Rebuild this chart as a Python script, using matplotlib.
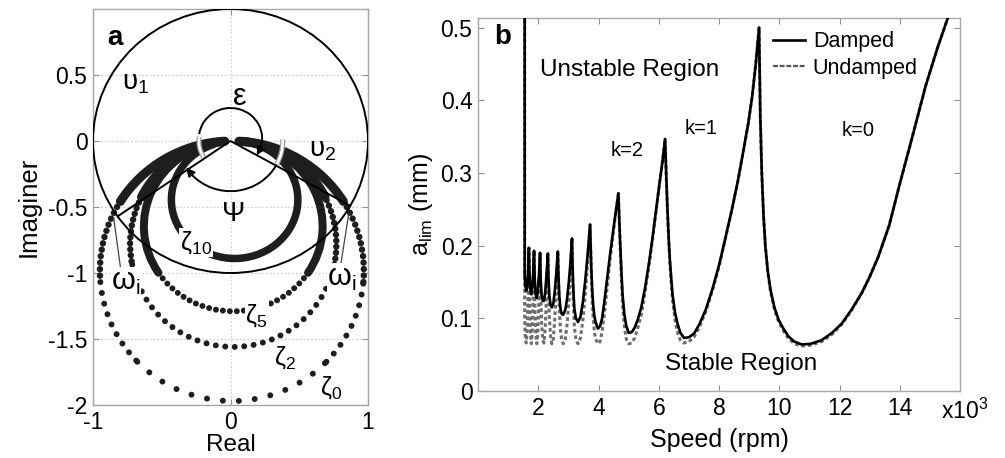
import numpy as np
import matplotlib
matplotlib.use("Agg")
import matplotlib.pyplot as plt
from matplotlib.patches import Arc, Circle
from matplotlib.ticker import FixedLocator, FixedFormatter

plt.rcParams['font.family'] = ['Liberation Sans', 'DejaVu Sans']
plt.rcParams['mathtext.fontset'] = 'custom'
plt.rcParams['mathtext.rm'] = 'Liberation Sans'
plt.rcParams['mathtext.it'] = 'Liberation Sans:italic'
plt.rcParams['axes.unicode_minus'] = False

# ---------------- Panel a data ----------------
a_xticks = [-1, 0, 1]
a_xticklabels = ['-1', '0', '1']
a_yticks = [-2, -1.5, -1, -0.5, 0, 0.5]
a_yticklabels = ['-2', '-1.5', '-1', '-0.5', '0', '0.5']

# Nyquist-like curves (centre / radii)
zeta_names = ['0', '2', '5', '10']
zeta_cx = [0.01, 0.02, 0.02, 0.03]
zeta_cy = [-0.985, -0.78, -0.645, -0.445]
zeta_rx = [0.96, 0.75, 0.65, 0.46]
zeta_ry = [0.985, 0.78, 0.645, 0.445]

# unit circle U1 and the two radius lines
u1_radius = 1.0
v_x = [-0.82, 0.0, 0.87]
v_y = [-0.57, 0.0, -0.49]
eps_radius = 0.23
psi_radius = 0.38

# ---------------- Panel b data (speed in 10^3 rpm, a_lim in mm) ----------------
lobe10_speed = [1.55, 1.55, 1.57, 1.60, 1.63, 1.66, 1.69]
lobe10_damped = [0.52, 0.16, 0.145, 0.138, 0.142, 0.162, 0.197]
lobe10_undamped = [0.52, 0.10, 0.072, 0.066, 0.082, 0.13, 0.197]

lobe9_speed = [1.69, 1.71, 1.74, 1.77, 1.80, 1.83, 1.86]
lobe9_damped = [0.197, 0.16, 0.138, 0.133, 0.142, 0.163, 0.193]
lobe9_undamped = [0.197, 0.13, 0.08, 0.065, 0.08, 0.125, 0.193]

lobe8_speed = [1.86, 1.88, 1.91, 1.95, 1.98, 2.02, 2.06]
lobe8_damped = [0.193, 0.158, 0.134, 0.128, 0.135, 0.158, 0.19]
lobe8_undamped = [0.193, 0.135, 0.085, 0.065, 0.075, 0.12, 0.19]

lobe7_speed = [2.06, 2.08, 2.11, 2.15, 2.19, 2.23, 2.27, 2.32]
lobe7_damped = [0.19, 0.155, 0.132, 0.124, 0.124, 0.136, 0.158, 0.189]
lobe7_undamped = [0.19, 0.14, 0.095, 0.07, 0.066, 0.085, 0.125, 0.189]

lobe6_speed = [2.32, 2.34, 2.37, 2.41, 2.45, 2.50, 2.55, 2.60, 2.65]
lobe6_damped = [0.189, 0.155, 0.13, 0.118, 0.115, 0.12, 0.138, 0.163, 0.192]
lobe6_undamped = [0.189, 0.14, 0.10, 0.075, 0.065, 0.072, 0.10, 0.14, 0.192]

lobe5_speed = [2.65, 2.67, 2.70, 2.74, 2.78, 2.83, 2.90, 2.96, 3.02, 3.07, 3.12]
lobe5_damped = [0.192, 0.16, 0.13, 0.113, 0.106, 0.105, 0.112, 0.128, 0.152, 0.178, 0.21]
lobe5_undamped = [0.192, 0.15, 0.11, 0.083, 0.07, 0.065, 0.072, 0.093, 0.125, 0.163, 0.21]

lobe4_speed = [3.12, 3.14, 3.17, 3.20, 3.25, 3.32, 3.40, 3.48, 3.56, 3.64, 3.72]
lobe4_damped = [0.21, 0.17, 0.135, 0.113, 0.10, 0.095, 0.102, 0.122, 0.152, 0.188, 0.229]
lobe4_undamped = [0.21, 0.16, 0.115, 0.088, 0.071, 0.065, 0.073, 0.097, 0.133, 0.178, 0.229]

lobe3_speed = [3.72, 3.74, 3.76, 3.79, 3.82, 3.86, 3.90, 3.98, 4.05, 4.12, 4.20, 4.31, 4.39, 4.47, 4.56, 4.66]
lobe3_damped = [0.229, 0.20, 0.17, 0.14, 0.12, 0.104, 0.095, 0.086, 0.089, 0.10, 0.125, 0.163, 0.19, 0.215, 0.243, 0.272]
lobe3_undamped = [0.229, 0.198, 0.163, 0.128, 0.103, 0.083, 0.072, 0.065, 0.068, 0.082, 0.108, 0.152, 0.183, 0.211, 0.241, 0.272]

lobe2_speed = [4.66, 4.69, 4.72, 4.76, 4.80, 4.86, 4.92, 5.00, 5.10, 5.20, 5.30, 5.42, 5.55, 5.69,
               5.80, 5.91, 6.02, 6.13, 6.21]
lobe2_damped = [0.272, 0.235, 0.203, 0.165, 0.132, 0.105, 0.09, 0.080, 0.081, 0.087, 0.098, 0.115,
                0.143, 0.18, 0.213, 0.249, 0.284, 0.318, 0.347]
lobe2_undamped = [0.272, 0.233, 0.198, 0.155, 0.118, 0.088, 0.072, 0.065, 0.066, 0.073, 0.086, 0.105,
                  0.137, 0.176, 0.211, 0.248, 0.284, 0.318, 0.347]

lobe1_speed = [6.21, 6.25, 6.29, 6.33, 6.37, 6.42, 6.46, 6.54, 6.62, 6.72, 6.84, 7.00, 7.17, 7.35,
               7.56, 7.78, 8.00, 8.22, 8.44, 8.63, 8.82, 8.97, 9.10, 9.22, 9.33]
lobe1_damped = [0.347, 0.295, 0.249, 0.21, 0.18, 0.152, 0.132, 0.108, 0.093, 0.080, 0.073, 0.074,
                0.079, 0.092, 0.112, 0.14, 0.173, 0.212, 0.252, 0.29, 0.333, 0.368, 0.405, 0.45, 0.500]
lobe1_undamped = [0.347, 0.294, 0.247, 0.207, 0.175, 0.145, 0.124, 0.098, 0.081, 0.07, 0.066, 0.068,
                  0.074, 0.088, 0.109, 0.138, 0.171, 0.211, 0.252, 0.29, 0.333, 0.368, 0.405, 0.45, 0.5]

lobe0_speed = [9.33, 9.37, 9.42, 9.48, 9.54, 9.62, 9.71, 9.84, 9.98, 10.15, 10.31, 10.50, 10.75,
               11.05, 11.41, 11.75, 12.08, 12.40, 12.74, 13.00, 13.29, 13.65, 14.00, 14.45, 14.86,
               15.25, 15.65]
lobe0_damped = [0.500, 0.38, 0.30, 0.24, 0.199, 0.165, 0.139, 0.115, 0.098, 0.085, 0.075, 0.068,
                0.064, 0.065, 0.070, 0.08, 0.093, 0.112, 0.135, 0.157, 0.185, 0.228, 0.285, 0.355,
                0.42, 0.472, 0.52]
lobe0_undamped = [0.5, 0.38, 0.30, 0.24, 0.198, 0.163, 0.137, 0.112, 0.095, 0.082, 0.072, 0.065,
                  0.062, 0.063, 0.068, 0.078, 0.092, 0.111, 0.135, 0.157, 0.185, 0.228, 0.285, 0.355,
                  0.42, 0.472, 0.52]

b_xticks = [2, 4, 6, 8, 10, 12, 14]
b_xticklabels = ['2', '4', '6', '8', '10', '12', '14']
b_yticks = [0, 0.1, 0.2, 0.3, 0.4, 0.5]
b_yticklabels = ['0', '0.1', '0.2', '0.3', '0.4', '0.5']
legend_labels = ['Damped', 'Undamped']

# ---------------- Figure ----------------
W, H = 1005, 458
fig = plt.figure(figsize=(W / 100, H / 100), dpi=100)
axa = fig.add_axes([93 / W, 1 - 405 / H, 275 / W, 396 / H])
axb = fig.add_axes([478 / W, 1 - 391 / H, 482 / W, 372.7 / H])

spine_col = '#a8a8a8'
tick_fs = 16.5
lab_fs = 18


def style_axes(ax):
    for s in ax.spines.values():
        s.set_color(spine_col)
        s.set_linewidth(1.0)
    ax.tick_params(direction='in', length=4, width=0.8, color='#909090',
                   labelsize=tick_fs, top=True, right=True, pad=4)


# ---------- panel a ----------
style_axes(axa)
axa.set_xlim(-1, 1)
axa.set_ylim(-2, 1)
axa.xaxis.set_major_locator(FixedLocator(a_xticks))
axa.xaxis.set_major_formatter(FixedFormatter(a_xticklabels))
axa.yaxis.set_major_locator(FixedLocator(a_yticks))
axa.yaxis.set_major_formatter(FixedFormatter(a_yticklabels))
axa.grid(True, color='#d2d2d2', lw=0.9, ls=(0, (1.5, 1.5)))
axa.set_axisbelow(True)
axa.set_xlabel('Real', fontsize=17.5, labelpad=0)
axa.set_ylabel('Imaginer', fontsize=18.5, labelpad=5)

dot_col = '#1e1e1e'


def arc_piece(ax, cx, cy, rx, ry, t1, t2, spacing_px, dot_px):
    lw = dot_px * 0.72
    if spacing_px <= 0:
        ls = '-'
    else:
        ls = (0, (0.001, spacing_px * 0.72 / lw))
    ax.add_patch(Arc((cx, cy), 2 * rx, 2 * ry, theta1=t1, theta2=t2, lw=lw,
                     ls=ls, color=dot_col, capstyle='round', zorder=2))


# zones (deg, CCW from +x): (theta1, theta2, dot spacing px (0 = solid), dot size px)
zone_spec = [
    [(93, 147, 0, 9), (147, 185, 6.5, 6.5), (185, 225, 11, 6), (225, 315, 16, 6),
     (315, 355, 11, 6), (355, 393, 6.5, 6.5), (393, 447, 0, 9)],
    [(95, 152, 0, 9), (152, 192, 6, 6.5), (192, 348, 9.5, 6), (348, 388, 6, 6.5),
     (388, 445, 0, 9)],
    [(98, 213, 0, 8), (213, 327, 7, 6), (327, 442, 0, 8)],
    [(110, 430, 0, 7.5)],
]
for i in range(len(zeta_names)):
    for (t1, t2, sp, dp) in zone_spec[i]:
        arc_piece(axa, zeta_cx[i], zeta_cy[i], zeta_rx[i], zeta_ry[i], t1, t2, sp, dp)

# unit circle and radius lines
axa.add_patch(Circle((0, 0), u1_radius, fill=False, ec='k', lw=1.4, zorder=3))
axa.plot(v_x, v_y, color='k', lw=1.4, zorder=3)

# white crossing marks
for (r, t1, t2) in [(eps_radius, 172, 212), (psi_radius, -28, 2)]:
    axa.add_patch(Arc((0, 0), 2 * r, 2 * r, theta1=t1, theta2=t2, lw=3.6, color='#9a9a9a', zorder=4))
    axa.add_patch(Arc((0, 0), 2 * r, 2 * r, theta1=t1, theta2=t2, lw=1.8, color='white', zorder=4))

# epsilon arc (clockwise over the top) and psi arc (underneath)
axa.add_patch(Arc((0, 0.02), 2 * eps_radius, 2 * eps_radius, theta1=-22, theta2=172, lw=1.4,
                  color='k', zorder=4))
axa.add_patch(Arc((0, 0), 2 * psi_radius, 2 * psi_radius, theta1=-138, theta2=-28, lw=1.4,
                  color='k', zorder=4))


def arrow_on_circle(ax, cx, cy, r, ang_from, ang_to):
    a0, a1 = np.radians(ang_from), np.radians(ang_to)
    ax.annotate('', xy=(cx + r * np.cos(a1), cy + r * np.sin(a1)),
                xytext=(cx + r * np.cos(a0), cy + r * np.sin(a0)),
                arrowprops=dict(arrowstyle='-|>', color='k', lw=1.2, mutation_scale=13,
                                shrinkA=0, shrinkB=0), zorder=5)


arrow_on_circle(axa, 0, 0.02, eps_radius, -22, -34)
arrow_on_circle(axa, 0, 0, psi_radius, -136, -148)

# pointer lines for omega_i
axa.plot([-0.80, -0.85], [-0.96, -0.58], color='#444444', lw=0.9, zorder=3)
axa.plot([0.80, 0.86], [-0.95, -0.55], color='#444444', lw=0.9, zorder=3)

wbox = dict(facecolor='white', edgecolor='none', pad=0.5)
greek_fs = 20
axa.text(-0.84, 0.78, 'a', fontsize=20, fontweight='bold', ha='center', va='center')
axa.text(-0.69, 0.44, 'υ$_\\mathregular{1}$', fontsize=greek_fs, ha='center', va='center')
axa.text(0.67, -0.07, 'υ$_\\mathregular{2}$', fontsize=greek_fs, ha='center', va='center')
axa.text(0.07, 0.33, 'ε', fontsize=22, ha='center', va='center')
axa.text(0.02, -0.55, 'Ψ', fontsize=20, ha='center', va='center')
axa.text(-0.25, -0.77, 'ζ$_\\mathregular{10}$', fontsize=18, ha='center', va='center', bbox=wbox, zorder=6)
axa.text(0.19, -1.32, 'ζ$_\\mathregular{5}$', fontsize=18, ha='center', va='center', bbox=wbox, zorder=6)
axa.text(0.40, -1.64, 'ζ$_\\mathregular{2}$', fontsize=18, ha='center', va='center', bbox=wbox, zorder=6)
axa.text(0.73, -1.87, 'ζ$_\\mathregular{0}$', fontsize=18, ha='center', va='center', bbox=wbox, zorder=6)
axa.text(-0.76, -1.07, 'ω$_\\mathregular{i}$', fontsize=22, ha='center', va='center', bbox=wbox, zorder=6)
axa.text(0.81, -1.04, 'ω$_\\mathregular{i}$', fontsize=22, ha='center', va='center', bbox=wbox, zorder=6)

# ---------- panel b ----------
style_axes(axb)
axb.set_xlim(0, 16)
axb.set_ylim(0, 0.513)
axb.xaxis.set_major_locator(FixedLocator(b_xticks))
axb.xaxis.set_major_formatter(FixedFormatter(b_xticklabels))
axb.yaxis.set_major_locator(FixedLocator(b_yticks))
axb.yaxis.set_major_formatter(FixedFormatter(b_yticklabels))
axb.set_xlabel('Speed (rpm)', fontsize=lab_fs, labelpad=6)
axb.set_ylabel('a$_\\mathregular{lim}$ (mm)', fontsize=lab_fs, labelpad=4)

lobes = [
    (lobe10_speed, lobe10_damped, lobe10_undamped),
    (lobe9_speed, lobe9_damped, lobe9_undamped),
    (lobe8_speed, lobe8_damped, lobe8_undamped),
    (lobe7_speed, lobe7_damped, lobe7_undamped),
    (lobe6_speed, lobe6_damped, lobe6_undamped),
    (lobe5_speed, lobe5_damped, lobe5_undamped),
    (lobe4_speed, lobe4_damped, lobe4_undamped),
    (lobe3_speed, lobe3_damped, lobe3_undamped),
    (lobe2_speed, lobe2_damped, lobe2_undamped),
    (lobe1_speed, lobe1_damped, lobe1_undamped),
    (lobe0_speed, lobe0_damped, lobe0_undamped),
]
speed = np.concatenate([np.asarray(l[0]) for l in lobes])
damped = np.concatenate([np.asarray(l[1]) for l in lobes])
undamped = np.concatenate([np.asarray(l[2]) for l in lobes])

axb.plot(speed, undamped, color='#6e6e6e', lw=2.2, ls=(0, (1.2, 0.9)), label=legend_labels[1], zorder=2)
axb.plot(speed, damped, color='k', lw=1.9, label=legend_labels[0], zorder=3)

handles, labels = axb.get_legend_handles_labels()
leg = axb.legend(handles[::-1], labels[::-1], loc='upper left', bbox_to_anchor=(0.612, 0.965),
                 frameon=False, fontsize=15.5, handlelength=1.5, handletextpad=0.35,
                 borderpad=0, borderaxespad=0, labelspacing=0.25)
leg.get_lines()[1].set_color('#555555')
leg.get_lines()[1].set_linestyle((0, (2.2, 0.8)))
leg.get_lines()[1].set_linewidth(1.6)

axb.text(0.83, 0.487, 'b', fontsize=20, fontweight='bold', ha='center', va='center')
axb.text(5.02, 0.442, 'Unstable Region', fontsize=17.5, ha='center', va='center')
axb.text(8.74, 0.037, 'Stable Region', fontsize=17.5, ha='center', va='center')
axb.text(4.96, 0.331, 'k=2', fontsize=14.5, ha='center', va='center')
axb.text(7.41, 0.361, 'k=1', fontsize=14.5, ha='center', va='center')
axb.text(12.61, 0.358, 'k=0', fontsize=14.5, ha='center', va='center')
axb.text(0.96, -0.055, 'x10$^{\\mathregular{3}}$', transform=axb.transAxes, fontsize=tick_fs,
         ha='left', va='center')

fig.savefig('out.png', dpi=100)
